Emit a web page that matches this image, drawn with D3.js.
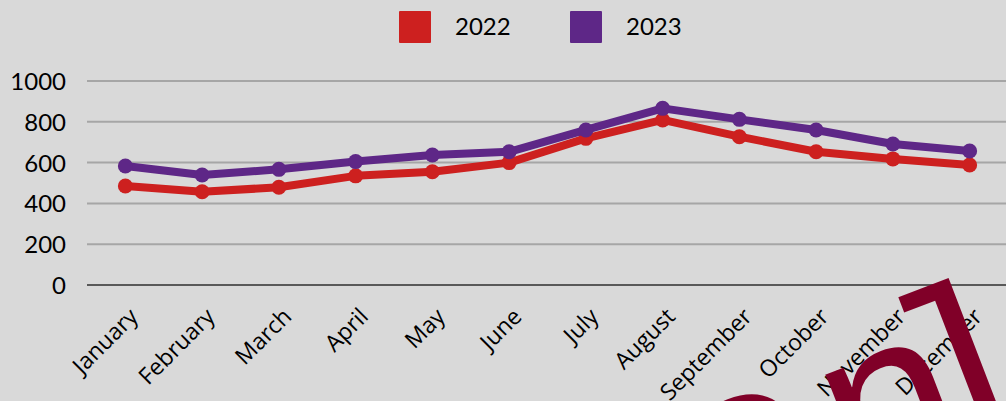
<!DOCTYPE html>
<html>
<head>
<meta charset="utf-8">
<script src="https://cdn.jsdelivr.net/npm/d3@7"></script>
<style>
  html, body { margin: 0; padding: 0; background: #d9d9d9; }
  svg { display: block; }
</style>
</head>
<body>
<svg id="chart" width="1006" height="401"></svg>
<script>
const months = ['January', 'February', 'March', 'April', 'May', 'June',
  'July', 'August', 'September', 'October', 'November', 'December'];
const sales2022 = [485, 457, 479, 535, 555, 600, 719, 809, 727, 653, 618, 588];
const sales2023 = [583, 539, 567, 605, 637, 653, 760, 866, 812, 760, 691, 657];
const yTicks = [0, 200, 400, 600, 800, 1000];
const seriesNames = ['2022', '2023'];
const overlayLetters = ['o', 'n', 'l'];

const width = 1006;
const height = 401;
const colors = ['#cd201f', '#5e2787'];

const series = [sales2022, sales2023].map((vals, i) => ({
  name: seriesNames[i],
  color: colors[i],
  values: vals.map((v, j) => ({ month: months[j], value: v }))
}));

const svg = d3.select('#chart');

svg.append('rect')
  .attr('width', width)
  .attr('height', height)
  .attr('fill', '#d9d9d9');

const x = d3.scalePoint()
  .domain(months)
  .range([87, 1008])
  .padding(0.5);

const y = d3.scaleLinear()
  .domain([0, 1000])
  .range([285, 81]);

// gridlines
svg.append('g')
  .selectAll('line')
  .data(yTicks.filter(d => d > 0))
  .enter()
  .append('line')
  .attr('x1', 87)
  .attr('x2', width)
  .attr('y1', d => y(d))
  .attr('y2', d => y(d))
  .attr('stroke', '#a6a6a6')
  .attr('stroke-width', 2);

// y axis labels
const yAxis = d3.axisLeft(y)
  .tickValues(yTicks)
  .tickFormat(d3.format('d'))
  .tickSize(0)
  .tickPadding(0);
const yg = svg.append('g')
  .attr('transform', 'translate(66,0)')
  .call(yAxis);
yg.select('.domain').remove();
yg.selectAll('text')
  .attr('font-family', 'Lato, sans-serif')
  .attr('font-size', 24)
  .attr('fill', '#000')
  .attr('dy', '0.35em');

// x axis baseline
svg.append('line')
  .attr('x1', 87)
  .attr('x2', width)
  .attr('y1', y(0))
  .attr('y2', y(0))
  .attr('stroke', '#595959')
  .attr('stroke-width', 2);

// x labels
svg.append('g')
  .selectAll('text')
  .data(months)
  .enter()
  .append('text')
  .attr('transform', d => `translate(${x(d) + 14}, 318) rotate(-45)`)
  .attr('text-anchor', 'end')
  .attr('font-family', '"Open Sans", sans-serif')
  .attr('font-size', 23)
  .attr('fill', '#000')
  .text(d => d);

// lines
const line = d3.line()
  .x(d => x(d.month))
  .y(d => y(d.value));

const groups = svg.append('g')
  .selectAll('g')
  .data(series)
  .enter()
  .append('g');

groups.append('path')
  .attr('d', d => line(d.values))
  .attr('fill', 'none')
  .attr('stroke', d => d.color)
  .attr('stroke-width', 8)
  .attr('stroke-linejoin', 'round');

groups.selectAll('circle')
  .data(d => d.values.map(v => ({ ...v, color: d.color })))
  .enter()
  .append('circle')
  .attr('cx', d => x(d.month))
  .attr('cy', d => y(d.value))
  .attr('r', 7.5)
  .attr('fill', d => d.color);

// legend
const legend = svg.append('g')
  .selectAll('g')
  .data(series)
  .enter()
  .append('g')
  .attr('transform', (d, i) => `translate(${399 + i * 171}, 11)`);

legend.append('rect')
  .attr('width', 32)
  .attr('height', 32)
  .attr('rx', 1)
  .attr('fill', d => d.color);

legend.append('text')
  .attr('x', 56)
  .attr('y', 16)
  .attr('dy', '0.35em')
  .attr('font-family', 'Lato, sans-serif')
  .attr('font-size', 24)
  .attr('fill', '#000')
  .text(d => d.name);

// decorative overlay lettering, cut off by the bottom-right corner
const letterX = [-136, 14, 100];
const letterY = [-10, 0, 0];
svg.append('g')
  .attr('transform', 'translate(837.5, 503) rotate(-21)')
  .append('text')
  .attr('font-family', '"Liberation Mono", monospace')
  .attr('font-size', 235)
  .attr('fill', '#800028')
  .selectAll('tspan')
  .data(overlayLetters)
  .enter()
  .append('tspan')
  .attr('x', (d, i) => letterX[i])
  .attr('y', (d, i) => letterY[i])
  .text(d => d);
</script>
</body>
</html>
